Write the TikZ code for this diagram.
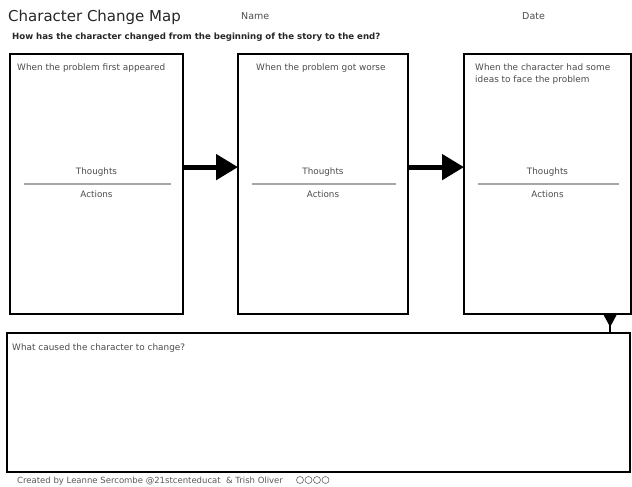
\documentclass[tikz,border=0pt]{standalone}
\usepackage{fontspec}
\setmainfont{DejaVu Sans}
\usetikzlibrary{arrows.meta,calc}
\begin{document}
\begin{tikzpicture}[x=1pt,y=-1pt,
  box/.style={draw=black, line width=2.6pt, fill=white, minimum width=#1, anchor=north west, inner sep=0pt, outer sep=0pt},
  lbl/.style={text=black!70, font=\fontsize{8.9}{11.5}\selectfont, anchor=north west, inner sep=0pt, align=left},
  mid/.style={text=black!70, font=\fontsize{8.8}{10}\selectfont, inner sep=0pt},
  sep/.style={draw=black!35, line width=1.2pt},
  bigarrow/.style={line width=5pt, -{Triangle[length=22pt,width=25pt]}},
  downarrow/.style={line width=1.6pt},
  cc/.style={circle, draw=black!60, line width=0.6pt, minimum size=7pt, inner sep=0pt}
]
\useasboundingbox[fill=white] (0,0) rectangle (632,487);

\node[anchor=west, inner sep=0pt, font=\fontsize{15}{18}\selectfont, text=black!85] (title) at (8,17) {Character Change Map};
\node[anchor=west, inner sep=0pt, font=\fontsize{9.5}{11}\selectfont, text=black!70] (name) at (241,16) {Name};
\node[anchor=west, inner sep=0pt, font=\fontsize{9.5}{11}\selectfont, text=black!70] (date) at (522,16) {Date};
\node[anchor=west, inner sep=0pt, font=\bfseries\fontsize{8.6}{10}\selectfont, text=black!85] (sub) at (12,37) {How has the character changed from the beginning of the story to the end?};

\node[box=173pt, minimum height=260pt] (b1) at (10,54) {};
\node[box=170pt, minimum height=260pt] (b2) at (238,54) {};
\node[box=167pt, minimum height=260pt] (b3) at (464,54) {};
\node[box=623pt, minimum height=139pt] (b4) at (7,333) {};

\node[lbl] (t1) at ($(b1.north west)+(7,10)$) {When the problem first appeared};
\node[lbl] (t2) at ($(b2.north west)+(18,10)$) {When the problem got worse};
\node[lbl] (t3) at ($(b3.north west)+(11,10)$) {When the character had some\\ideas to face the problem};
\node[lbl] (t4) at ($(b4.north west)+(5,11)$) {What caused the character to change?};

\foreach \b in {b1,b2,b3}{
  \node[mid] (\b th) at ($(\b.north)+(0,118)$) {Thoughts};
  \node[mid] (\b ac) at ($(\b.north)+(0,140)$) {Actions};
  \draw[sep] ($(\b.north west)+(14,130)$) -- ($(\b.north east)+(-12,130)$);
}

\draw[bigarrow] ($(b1.north east)!0.435!(b1.south east)$) -- ($(b2.north west)!0.435!(b2.south west)$);
\draw[bigarrow] ($(b2.north east)!0.435!(b2.south east)$) -- ($(b3.north west)!0.435!(b3.south west)$);

\coordinate (dtop) at ($(b3.south west)!0.875!(b3.south east)$);
\coordinate (dbot) at (dtop |- b4.north);
\draw[downarrow] (dtop) -- (dbot);
\fill[black] ($(dtop)+(-7,0)$) -- ($(dtop)+(7,0)$) -- ($(dtop)+(0,13)$) -- cycle;

\node[anchor=west, inner sep=0pt, font=\fontsize{8.5}{10}\selectfont, text=black!65] (foot) at (17,481) {Created by Leanne Sercombe @21stcenteducat \ \& Trish Oliver};
\node[cc] (c1) at (300,480) {};
\node[cc] (c2) at (308.5,480) {};
\node[cc] (c3) at (317,480) {};
\node[cc] (c4) at (325.5,480) {};
\end{tikzpicture}
\end{document}
